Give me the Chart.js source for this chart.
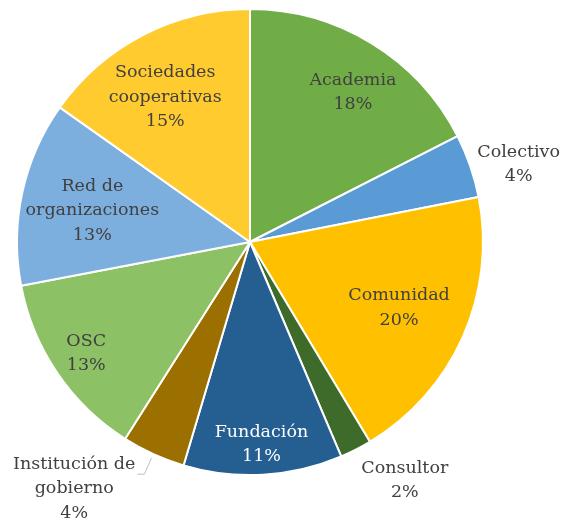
<!DOCTYPE html>
<html>
<head>
<meta charset="utf-8">
<script src="https://cdn.jsdelivr.net/npm/chart.js@4/dist/chart.umd.min.js"></script>
<style>
html,body{margin:0;padding:0;background:#fff;}
#wrap{width:561px;height:521px;}
</style>
</head>
<body>
<div id="wrap"><canvas id="c" width="561" height="521"></canvas></div>
<script>
// Data
const categories = ["Academia","Colectivo","Comunidad","Consultor","Fundación","Institución de gobierno","OSC","Red de organizaciones","Sociedades cooperativas"];
const values = [17.5, 4.4, 19.5, 2.2, 11.0, 4.4, 13.0, 12.8, 15.2];

// Styles
const colors = ["#70AD47","#5B9BD5","#FFC000","#3E6B2A","#255E91","#9C7000","#8CC166","#7DAFDE","#FFCB2F"];
const labelLines = [["Academia"],["Colectivo"],["Comunidad"],["Consultor"],["Fundación"],["Institución de","gobierno"],["OSC"],["Red de","organizaciones"],["Sociedades","cooperativas"]];
const labelRadius = [0.78, 1.20, 0.70, 1.22, 0.87, 1.30, 0.85, 0.69, 0.72];
const labelAngleShift = [3, 3, 0, -6, 0, 11, 0, -1, -3];
const labelColor = ["#404040","#404040","#404040","#404040","#FFFFFF","#404040","#404040","#404040","#404040"];

const labelPlugin = {
  id: 'sliceLabels',
  afterDatasetsDraw(chart) {
    const ctx = chart.ctx;
    const meta = chart.getDatasetMeta(0);
    const data = chart.data.datasets[0].data;
    const total = data.reduce((a,b)=>a+b,0);
    ctx.save();
    ctx.font = '17.5px "DejaVu Serif", serif';
    ctx.textAlign = 'center';
    ctx.textBaseline = 'middle';
    const lh = 24.5;
    meta.data.forEach((arc, i) => {
      const p = arc.getProps(['x','y','startAngle','endAngle','outerRadius'], true);
      const mid = (p.startAngle + p.endAngle)/2 + labelAngleShift[i]*Math.PI/180;
      const r = p.outerRadius * labelRadius[i];
      const cx = p.x + Math.cos(mid)*r;
      const cy = p.y + Math.sin(mid)*r;
      const lines = labelLines[i].concat([Math.round(data[i]/total*100) + '%']);
      const y0 = cy - (lines.length-1)*lh/2;
      ctx.fillStyle = labelColor[i];
      lines.forEach((t, k) => ctx.fillText(t, cx, y0 + k*lh));
      if (labelRadius[i] > 1.25) {
        // leader line
        const amid = (p.startAngle + p.endAngle)/2;
        const ex = p.x + Math.cos(amid)*p.outerRadius*1.0;
        const ey = p.y + Math.sin(amid)*p.outerRadius*1.0;
        const w = ctx.measureText(labelLines[i][0]).width;
        const lx = cx + w/2 + 2;
        const ly = y0 + 10;
        ctx.strokeStyle = '#BFBFBF';
        ctx.lineWidth = 1;
        ctx.beginPath();
        ctx.moveTo(lx, ly);
        ctx.lineTo(lx + 7, ly);
        ctx.lineTo(ex - 2, ey + 4);
        ctx.stroke();
      }
    });
    ctx.restore();
  }
};

new Chart(document.getElementById('c'), {
  type: 'pie',
  data: {
    labels: categories,
    datasets: [{
      data: values,
      backgroundColor: colors,
      borderColor: '#FFFFFF',
      borderWidth: 2
    }]
  },
  options: {
    responsive: false,
    animation: false,
    layout: { padding: { left: 16, top: 8, right: 77, bottom: 45 } },
    plugins: { legend: { display: false }, tooltip: { enabled: false } }
  },
  plugins: [labelPlugin]
});
</script>
</body>
</html>
